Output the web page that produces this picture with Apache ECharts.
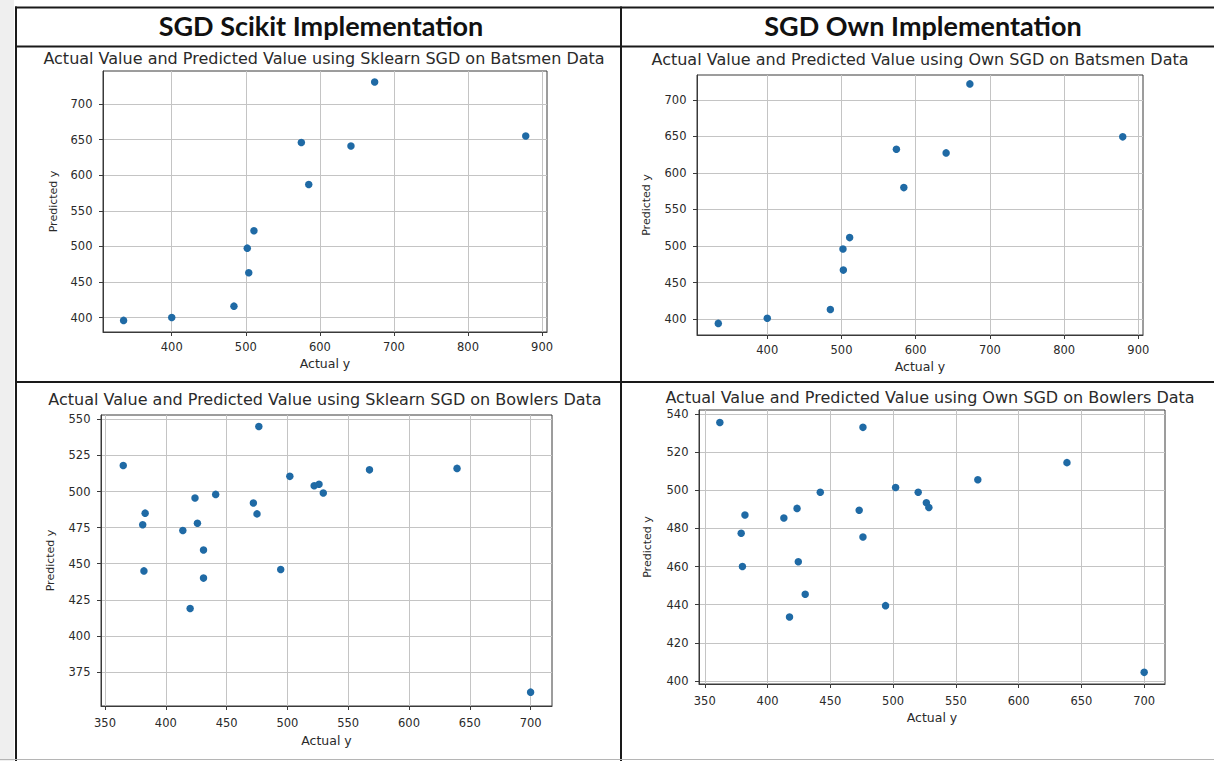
<!DOCTYPE html>
<html>
<head>
<meta charset="utf-8">
<script src="https://cdn.jsdelivr.net/npm/echarts@6/dist/echarts.min.js"></script>
<style>
html,body{margin:0;padding:0;background:#ffffff;}
#chart{width:1214px;height:761px;}
</style>
</head>
<body>
<div id="chart"></div>
<script>
// ---------------- data ----------------
const headers = ['SGD Scikit Implementation', 'SGD Own Implementation'];
const plotTitles = [
  'Actual Value and Predicted Value using Sklearn SGD on Batsmen Data',
  'Actual Value and Predicted Value using Own SGD on Batsmen Data',
  'Actual Value and Predicted Value using Sklearn SGD on Bowlers Data',
  'Actual Value and Predicted Value using Own SGD on Bowlers Data'
];
const xAxisName = 'Actual y';
const yAxisName = 'Predicted y';

const xTicksBatsmen = [400, 500, 600, 700, 800, 900];
const yTicksBatsmen = [400, 450, 500, 550, 600, 650, 700];
const xTicksBowlers = [350, 400, 450, 500, 550, 600, 650, 700];
const yTicksSklearnBowlers = [375, 400, 425, 450, 475, 500, 525, 550];
const yTicksOwnBowlers = [400, 420, 440, 460, 480, 500, 520, 540];

const sklearnBatsmenActual    = [335, 400, 484, 502, 504, 511, 575, 585, 642, 674, 878];
const sklearnBatsmenPredicted = [396, 400, 416, 497.5, 463, 522, 646, 587, 641, 731, 655];

const ownBatsmenActual    = [334, 400, 485, 502, 502.5, 511, 574, 584, 641, 673, 879];
const ownBatsmenPredicted = [394, 401, 413, 496, 467, 511.5, 632.5, 580, 627.5, 722, 649.5];

const sklearnBowlersActual    = [365, 383, 381, 382, 414, 424, 426, 431, 431, 420, 441, 472, 475, 476.5, 494.5, 502, 522, 526, 529.5, 567.5, 639.5, 700];
const sklearnBowlersPredicted = [518, 485, 477, 445, 473, 495.5, 478, 459.5, 440, 419, 498, 492, 484.5, 545, 446, 510.5, 504, 505, 499, 515, 516, 361];

const ownBowlersActual    = [362, 382, 379, 380, 413, 423.5, 424.5, 430, 417.5, 442, 473, 476, 476, 494, 502, 520, 526.5, 528.5, 567.5, 638.5, 700];
const ownBowlersPredicted = [535.5, 487, 477.5, 460, 485.5, 490.5, 462.5, 445.5, 433.5, 499, 489.5, 533, 475.5, 439.5, 501.5, 499, 493.5, 491, 505.5, 514.5, 404.5];

// ---------------- layout / style ----------------
const panels = [
  {grid:{left:103, top:71,  width:444, height:261}, xr:[307.2, 906.7], yr:[379.7, 746.4], xt:xTicksBatsmen, yt:yTicksBatsmen,
   ax:sklearnBatsmenActual, py:sklearnBatsmenPredicted, tx:324, ty:50, nameGapX:25, nameGapY:44, labMarginX:9},
  {grid:{left:697, top:75,  width:446, height:260}, xr:[305.3, 906.3], yr:[378.1, 734.2], xt:xTicksBatsmen, yt:yTicksBatsmen,
   ax:ownBatsmenActual, py:ownBatsmenPredicted, tx:920, ty:51, nameGapX:25, nameGapY:45, labMarginX:8.5},
  {grid:{left:101, top:415, width:451, height:291}, xr:[346.7, 717.6], yr:[351.4, 553.0], xt:xTicksBowlers, yt:yTicksSklearnBowlers,
   ax:sklearnBowlersActual, py:sklearnBowlersPredicted, tx:325, ty:391, nameGapX:28, nameGapY:45, labMarginX:10.5},
  {grid:{left:699, top:410, width:466, height:274}, xr:[345.4, 716.6], yr:[398.4, 542.1], xt:xTicksBowlers, yt:yTicksOwnBowlers,
   ax:ownBowlersActual, py:ownBowlersPredicted, tx:930, ty:389, nameGapX:27, nameGapY:46, labMarginX:10.5}
];

const textColor = '#2a2a2a';
const spineColor = '#3a3a3a';
const gridColor = '#c4c4c4';
const markerColor = '#1f6aa5';
const plotFont = 'DejaVu Sans';

const grids = [], xAxes = [], yAxes = [], series = [], titles = [];

headers.forEach((h, i) => {
  titles.push({
    text: h, left: i === 0 ? 321 : 923, top: 12, textAlign: 'center', padding: 0,
    textStyle: {fontFamily: 'Lato', fontWeight: 700, fontSize: 27, color: '#111'}
  });
});

panels.forEach((p, i) => {
  grids.push(Object.assign({show: true, borderColor: spineColor, borderWidth: 1, backgroundColor: 'transparent'}, p.grid));
  titles.push({
    text: plotTitles[i], left: p.tx, top: p.ty, textAlign: 'center', padding: 0,
    textStyle: {fontFamily: plotFont, fontWeight: 'normal', fontSize: 16, color: textColor}
  });
  xAxes.push({
    gridIndex: i, type: 'value', min: p.xr[0], max: p.xr[1],
    name: xAxisName, nameLocation: 'middle', nameGap: p.nameGapX,
    nameTextStyle: {fontFamily: plotFont, fontSize: 12.5, color: textColor},
    axisLine: {onZero: false, lineStyle: {color: spineColor, width: 1}},
    axisTick: {show: true, customValues: p.xt, length: 4, lineStyle: {color: spineColor}},
    axisLabel: {customValues: p.xt, margin: p.labMarginX, fontFamily: plotFont, fontSize: 11.5, color: textColor},
    splitLine: {show: true, lineStyle: {color: gridColor, width: 1}}
  });
  yAxes.push({
    gridIndex: i, type: 'value', min: p.yr[0], max: p.yr[1],
    name: yAxisName, nameLocation: 'middle', nameGap: p.nameGapY,
    nameTextStyle: {fontFamily: plotFont, fontSize: 11, color: textColor},
    axisLine: {show: true, onZero: false, lineStyle: {color: spineColor, width: 1}},
    axisTick: {show: true, customValues: p.yt, length: 4, lineStyle: {color: spineColor}},
    axisLabel: {customValues: p.yt, margin: 10.5, fontFamily: plotFont, fontSize: 11.5, color: textColor},
    splitLine: {show: true, lineStyle: {color: gridColor, width: 1}}
  });
  series.push({
    type: 'scatter', xAxisIndex: i, yAxisIndex: i,
    data: p.ax.map((v, k) => [v, p.py[k]]),
    symbolSize: 7.5, itemStyle: {color: markerColor, opacity: 1}, silent: true
  });
});

const lineColor = '#1a1a1a';
const graphics = [
  {type: 'rect', shape: {x: 0, y: 0, width: 14, height: 761}, style: {fill: '#efefef'}, silent: true},
  {type: 'line', shape: {x1: 15, y1: 7.5, x2: 1214, y2: 7.5}, style: {stroke: lineColor, lineWidth: 2}},
  {type: 'line', shape: {x1: 15, y1: 46.5, x2: 1214, y2: 46.5}, style: {stroke: lineColor, lineWidth: 2}},
  {type: 'line', shape: {x1: 15, y1: 382, x2: 1214, y2: 382}, style: {stroke: lineColor, lineWidth: 2}},
  {type: 'line', shape: {x1: 16, y1: 6.5, x2: 16, y2: 761}, style: {stroke: lineColor, lineWidth: 2}},
  {type: 'line', shape: {x1: 621, y1: 6.5, x2: 621, y2: 761}, style: {stroke: lineColor, lineWidth: 2}},
  {type: 'line', shape: {x1: 0, y1: 759.5, x2: 1214, y2: 759.5}, style: {stroke: '#b5b5b5', lineWidth: 1}}
];

const chart = echarts.init(document.getElementById('chart'), null, {renderer: 'svg'});
chart.setOption({
  backgroundColor: '#ffffff',
  animation: false,
  title: titles,
  grid: grids,
  xAxis: xAxes,
  yAxis: yAxes,
  series: series,
  graphic: graphics
});
</script>
</body>
</html>
